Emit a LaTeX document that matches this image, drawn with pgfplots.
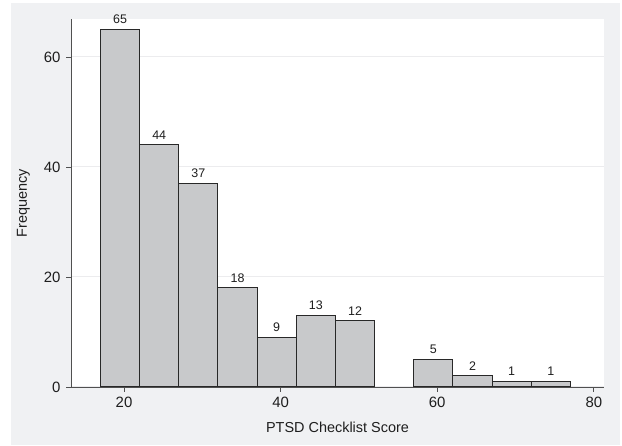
\documentclass[border=0pt]{standalone}
\usepackage{pgfplots}
\pgfplotsset{compat=1.18}
\usepackage{fontspec}
\setmainfont{Liberation Sans}
\definecolor{bggray}{RGB}{240,241,243}
\definecolor{barfill}{RGB}{200,201,203}
\definecolor{baredge}{RGB}{40,40,40}
\definecolor{axisgray}{RGB}{80,80,80}
\definecolor{gridgray}{RGB}{236,236,238}
\definecolor{textgray}{RGB}{30,30,30}
\begin{document}
\begin{tikzpicture}[x=1bp,y=1bp]
\useasboundingbox (0,0) rectangle (622,446);
\fill[white] (0,0) rectangle (622,446);
\fill[bggray] (11,1) rectangle (620,443);
\begin{axis}[
  at={(71bp,59bp)}, anchor=origin,
  scale only axis,
  width=533bp, height=368bp,
  xmin=13.23, xmax=81.3,
  ymin=0, ymax=66.9,
  axis x line*=bottom, axis y line*=left,
  axis line style={draw=axisgray, line width=0.8bp, -},
  axis background/.style={fill=white},
  xtick={20,40,60,80}, ytick={0,20,40,60},
  tick align=outside,
  major tick length=5bp,
  tick style={draw=axisgray, line width=0.8bp},
  ymajorgrids,
  major grid style={draw=gridgray, line width=1bp},
  ticklabel style={font=\fontsize{15}{17}\selectfont, text=textgray},
  xticklabel style={yshift=-2bp},
  yticklabel style={xshift=-2bp},
  /pgf/number format/assume math mode=true,
  xlabel={PTSD Checklist Score},
  ylabel={Frequency},
  label style={font=\fontsize{14.5}{16}\selectfont, text=textgray},
  xlabel style={at={(axis description cs:0.5,-0.1223)}, anchor=base},
  ylabel style={at={(axis description cs:-0.0826,0.5)}, anchor=base},
  clip=false,
]
\addplot[ybar, bar shift=0pt, bar width=5, fill=barfill, draw=baredge, line width=1bp,
  nodes near coords,
  every node near coord/.append style={font=\fontsize{12.5}{14}\selectfont, text=textgray, anchor=south, yshift=2bp}]
  coordinates {
  (19.5,65) (24.5,44) (29.5,37) (34.5,18) (39.5,9) (44.5,13) (49.5,12)
  (59.5,5) (64.5,2) (69.5,1) (74.5,1)
  };
\end{axis}
\end{tikzpicture}
\end{document}
